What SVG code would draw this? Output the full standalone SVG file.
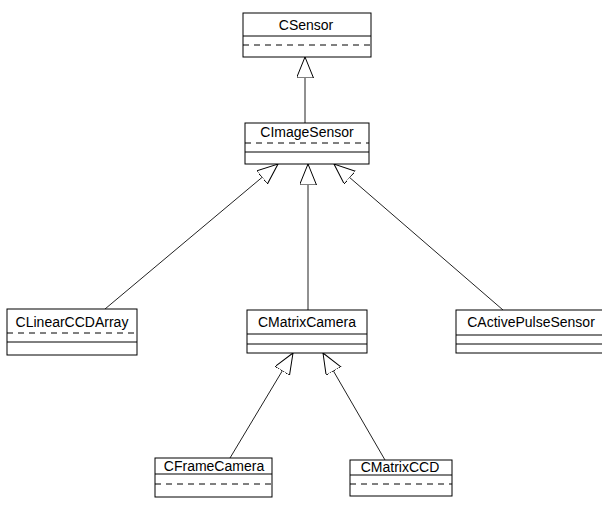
<svg xmlns="http://www.w3.org/2000/svg" width="602" height="505" viewBox="0 0 602 505">
<style>
.box{fill:#fff;stroke:#000;stroke-width:1}
.div{stroke:#000;stroke-width:1;fill:none}
.dash{stroke:#000;stroke-width:1;fill:none;stroke-dasharray:6 5}
.lbl{font-family:"Liberation Sans",Arial,sans-serif;font-size:14px;fill:#000;text-anchor:middle}
.edge{stroke:#222;stroke-width:1;fill:none;marker-end:url(#tri)}
</style>
<defs>
<marker id="tri" markerUnits="userSpaceOnUse" markerWidth="24" markerHeight="20" refX="21" refY="8.5" orient="auto">
<path d="M0,0 L21,8.5 L0,17 Z" fill="#fff" stroke="#000" stroke-width="1"/>
</marker>
</defs>
<rect width="602" height="505" fill="#fff"/>
<g id="connectors">
<line class="edge" x1="305" y1="123" x2="305" y2="57"/>
<line class="edge" x1="105" y1="309" x2="278" y2="164"/>
<line class="edge" x1="308" y1="310" x2="308" y2="164"/>
<line class="edge" x1="503" y1="310" x2="334" y2="164"/>
<line class="edge" x1="230" y1="458" x2="293" y2="353"/>
<line class="edge" x1="385" y1="460" x2="323" y2="353"/>
</g>
<g id="CSensor">
<rect class="box" x="243" y="13" width="128" height="44"/>
<line class="div" x1="243" y1="36" x2="371" y2="36"/>
<line class="dash" x1="243" y1="45" x2="371" y2="45"/>
<text class="lbl" x="306" y="30">CSensor</text>
</g>
<g id="CImageSensor">
<rect class="box" x="245" y="123" width="124" height="41"/>
<line class="dash" x1="245" y1="143" x2="369" y2="143"/>
<line class="div" x1="245" y1="152" x2="369" y2="152"/>
<text class="lbl" x="307" y="137">CImageSensor</text>
</g>
<g id="CLinearCCDArray">
<rect class="box" x="7" y="309" width="130" height="46"/>
<line class="dash" x1="7" y1="333" x2="137" y2="333"/>
<line class="div" x1="7" y1="342" x2="137" y2="342"/>
<text class="lbl" x="72" y="327">CLinearCCDArray</text>
</g>
<g id="CMatrixCamera">
<rect class="box" x="247" y="310" width="120" height="43"/>
<line class="div" x1="247" y1="334" x2="367" y2="334"/>
<line class="div" x1="247" y1="344" x2="367" y2="344"/>
<text class="lbl" x="307" y="327">CMatrixCamera</text>
</g>
<g id="CActivePulseSensor">
<rect class="box" x="456" y="310" width="156" height="43"/>
<line class="div" x1="456" y1="335" x2="612" y2="335"/>
<line class="div" x1="456" y1="344" x2="612" y2="344"/>
<text class="lbl" x="531" y="327">CActivePulseSensor</text>
</g>
<g id="CFrameCamera">
<rect class="box" x="155" y="458" width="117" height="39"/>
<line class="div" x1="155" y1="474" x2="272" y2="474"/>
<line class="dash" x1="155" y1="484" x2="272" y2="484"/>
<text class="lbl" x="214" y="471">CFrameCamera</text>
</g>
<g id="CMatrixCCD">
<rect class="box" x="350" y="460" width="102" height="36"/>
<line class="div" x1="350" y1="475" x2="452" y2="475"/>
<line class="dash" x1="350" y1="484" x2="452" y2="484"/>
<text class="lbl" x="400" y="472">CMatrixCCD</text>
</g>
</svg>
